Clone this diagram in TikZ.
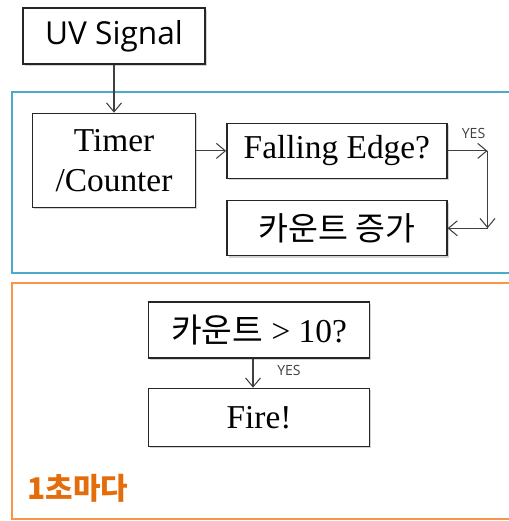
\documentclass[tikz,border=0pt]{standalone}
\usepackage{fontspec}
\setmainfont{Liberation Serif}
\newfontfamily\krfont{Noto Sans CJK KR}
\newfontfamily\uifont{Open Sans}
\usepackage{tikz}
\usetikzlibrary{arrows.meta,positioning,shadows}
\definecolor{frameblue}{HTML}{4BACC6}
\definecolor{frameorange}{HTML}{F79646}
\definecolor{labelorange}{HTML}{E46C0A}
\definecolor{arrowgray}{HTML}{404040}

\begin{document}
\begin{tikzpicture}[
    x=0.02cm, y=-0.02cm,
    node distance=0.6cm,
    flowbox/.style={draw=black!85, line width=0.8pt, fill=white, minimum height=1.1cm, align=center, inner sep=2pt, font=\fontsize{19}{22.7}\selectfont, drop shadow={shadow xshift=1pt, shadow yshift=-1pt, opacity=0.35}},
    arrow/.style={-{Straight Barb[length=1.8mm, width=3mm]}, draw=arrowgray, line width=0.6pt},
    yeslabel/.style={font=\uifont\fontsize{8}{9}\selectfont, text=arrowgray, inner sep=0pt}
  ]
    \useasboundingbox (0,0) rectangle (509,521);
    \clip (0,0) rectangle (509,521);
    % frames
    \draw[frameblue, line width=1.5pt] (12,92) rectangle (540,273);
    \draw[frameorange, line width=1.5pt] (12,283) rectangle (540,519);
    \node[flowbox, minimum width=3.64cm, minimum height=1.12cm, font=\uifont\fontsize{18}{22}\selectfont] (uv) at (114,36) {UV Signal};
    \node[flowbox, minimum width=3.26cm, minimum height=1.88cm, below=0.96cm of uv] (timer) {Timer\\/Counter};
    \node[flowbox, minimum width=4.4cm, right=0.6cm of timer, yshift=0.19cm] (fall) {Falling Edge?};
    \node[flowbox, minimum width=4.4cm, below=0.42cm of fall, font=\krfont\fontsize{18.5}{22}\selectfont] (incr) {카운트 증가};
    \node[flowbox, minimum width=4.42cm, minimum height=1.12cm] (cmp) at (259,330) {{\krfont 카운트} > 10?};
    \node[flowbox, minimum width=4.42cm, minimum height=1.16cm, below=0.58cm of cmp] (fire) {Fire!};
    \coordinate (yesturn) at ([xshift=0.8cm]fall.east);
    \coordinate (yesback) at (yesturn |- incr.east);
    \draw[arrow] (uv) -- (timer);
    \draw[arrow] (timer.east |- fall.west) -- (fall.west);
    \draw[arrow] (fall.east) -- (yesturn);
    \draw[arrow] (yesturn) -- (yesback);
    \draw[arrow] (yesback) -- (incr.east);
    \node[yeslabel] (yesfall) at ([xshift=-0.28cm, yshift=0.34cm]yesturn) {YES};
    \draw[arrow] ([xshift=-0.12cm]cmp.south) -- ([xshift=-0.12cm]fire.north);
    \node[yeslabel] (yescmp) at ([xshift=0.6cm, yshift=-0.24cm]cmp.south) {YES};
    \node[font=\krfont\bfseries\fontsize{17}{20}\selectfont, text=labelorange, anchor=west, inner sep=0pt] (every) at (27,488) {1초마다};
\end{tikzpicture}
\end{document}
